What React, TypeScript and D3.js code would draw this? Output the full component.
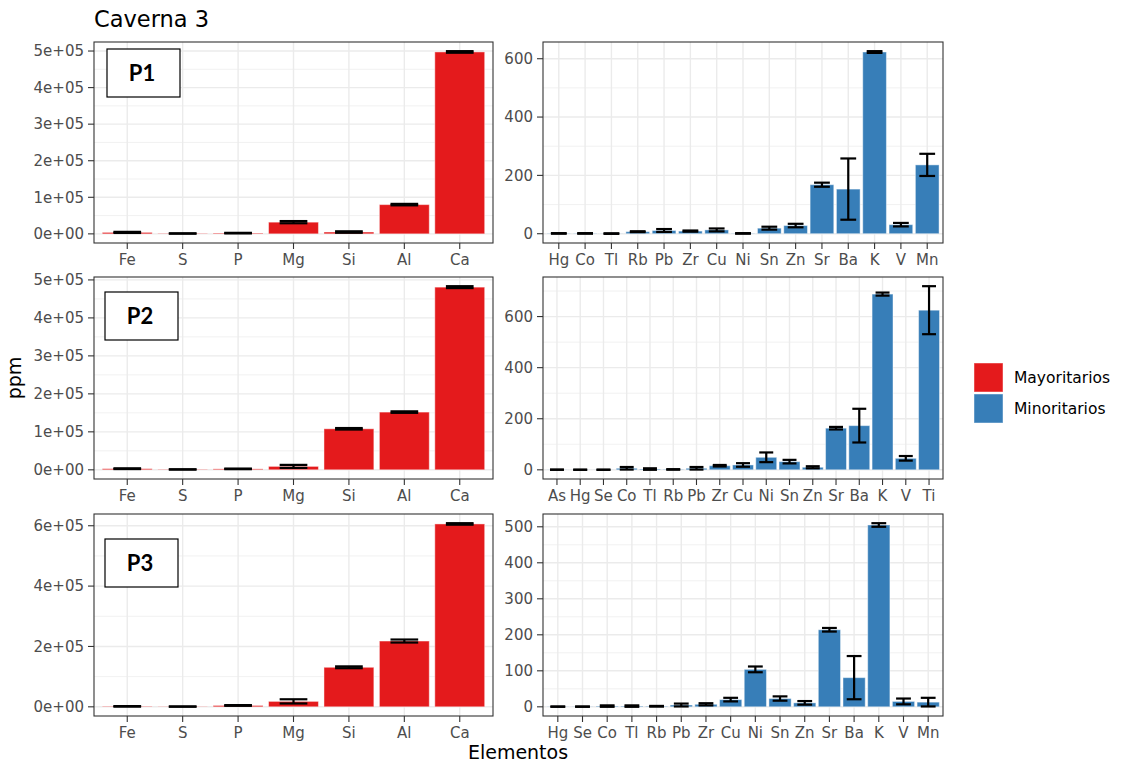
import React from "react";
import * as d3 from "d3";

// ---- Data -------------------------------------------------------------
const majorCats = ["Fe", "S", "P", "Mg", "Si", "Al", "Ca"];

const p1MajorMean = [4000, 1000, 2000, 32000, 5000, 80000, 497500];
const p1MajorSd = [1500, 500, 800, 3000, 2000, 2000, 2200];
const p2MajorMean = [3000, 1000, 2500, 9000, 108000, 152000, 481000];
const p2MajorSd = [1000, 400, 800, 4000, 2000, 2000, 2500];
const p3MajorMean = [1500, 800, 4500, 18000, 131000, 218000, 606000];
const p3MajorSd = [800, 500, 1200, 7000, 3000, 5000, 2500];

const p1MinorCats = ["Hg", "Co", "Tl", "Rb", "Pb", "Zr", "Cu", "Ni", "Sn", "Zn", "Sr", "Ba", "K", "V", "Mn"];
const p1MinorMean = [1, 1, 0.5, 7, 11, 9, 13, 1, 19, 28, 168, 153, 623, 31, 236];
const p1MinorSd = [1, 1, 1, 1.5, 5, 2, 5, 1, 5, 6, 7, 105, 3, 6, 38];

const p2MinorCats = ["As", "Hg", "Se", "Co", "Tl", "Rb", "Pb", "Zr", "Cu", "Ni", "Sn", "Zn", "Sr", "Ba", "K", "V", "Ti"];
const p2MinorMean = [0.5, 0.3, 0.3, 6, 3, 1.5, 6, 16, 19, 49, 32, 10, 163, 173, 688, 45, 625];
const p2MinorSd = [0.5, 0.3, 0.3, 5, 3, 1, 5, 3, 7, 19, 7, 4, 5, 66, 6, 9, 94];

const p3MinorCats = ["Hg", "Se", "Co", "Tl", "Rb", "Pb", "Zr", "Cu", "Ni", "Sn", "Zn", "Sr", "Ba", "K", "V", "Mn"];
const p3MinorMean = [0.5, 0.5, 2, 2, 1.5, 5, 7, 20, 104, 23, 11, 214, 81, 505, 15, 13];
const p3MinorSd = [0.5, 0.5, 2, 2, 1, 4, 3, 5, 8, 6, 5, 5, 60, 5, 8, 12];

const majorTicksA = [0, 100000, 200000, 300000, 400000, 500000];
const majorTicksB = [0, 200000, 400000, 600000];
const minorTicksA = [0, 200, 400, 600];
const minorTicksB = [0, 100, 200, 300, 400, 500];

const plotTitle = "Caverna 3";
const xTitle = "Elementos";
const yTitle = "ppm";
const groupNames = ["Mayoritarios", "Minoritarios"];
const groupColors = ["#E41A1C", "#377EB8"];
const rowLabels = ["P1", "P2", "P3"];

// ---- Helpers ----------------------------------------------------------
const FONT = "DejaVu Sans, sans-serif";
const TICK_COLOR = "#4D4D4D";
const LINE_COLOR = "#333333";
const GRID = "#EBEBEB";
const TICK_SIZE = 15;

// R-style scientific notation: 5e+05, 0e+00
function sci(v: number): string {
  if (v === 0) return "0e+00";
  const e = Math.floor(Math.log10(Math.abs(v)));
  const m = Math.round(v / Math.pow(10, e));
  const sign = e < 0 ? "-" : "+";
  return `${m}e${sign}${String(Math.abs(e)).padStart(2, "0")}`;
}
const plain = (v: number) => String(v);

type PanelProps = {
  cats: string[];
  mean: number[];
  sd: number[];
  ticks: number[];
  fmt: (v: number) => string;
  color: string;
  x0: number;
  x1: number;
  y0: number;
  y1: number;
  capFrac: number;
};

function Panel({ cats, mean, sd, ticks, fmt, color, x0, x1, y0, y1, capFrac }: PanelProps) {
  const hi = d3.max(mean.map((m, i) => m + sd[i])) as number;
  const lo = Math.min(0, d3.min(mean.map((m, i) => m - sd[i])) as number);
  const pad = (hi - lo) * 0.05;
  const y = d3.scaleLinear().domain([lo - pad, hi + pad]).range([y1, y0]);
  const x = d3.scaleBand<string>().domain(cats).range([x0, x1]).paddingInner(0.1).paddingOuter(0.15);
  const step = x.step();
  const bw = x.bandwidth();
  const [dLo, dHi] = y.domain();
  const tstep = ticks[1] - ticks[0];
  const minor: number[] = [];
  for (let t = ticks[0] - tstep / 2; t <= ticks[ticks.length - 1] + tstep; t += tstep) {
    if (t >= dLo && t <= dHi) minor.push(t);
  }
  const capW = step * capFrac;
  return (
    <g>
      <rect x={x0} y={y0} width={x1 - x0} height={y1 - y0} fill="#FFFFFF" />
      {minor.map((t, i) => (
        <line key={"mn" + i} x1={x0} x2={x1} y1={y(t)} y2={y(t)} stroke={GRID} strokeWidth={0.7} />
      ))}
      {ticks.map((t, i) => (
        <line key={"mj" + i} x1={x0} x2={x1} y1={y(t)} y2={y(t)} stroke={GRID} strokeWidth={1.4} />
      ))}
      {cats.map((c) => {
        const cx = (x(c) as number) + bw / 2;
        return <line key={"vg" + c} x1={cx} x2={cx} y1={y0} y2={y1} stroke={GRID} strokeWidth={1.4} />;
      })}
      {cats.map((c, i) => {
        const top = y(Math.max(mean[i], 0));
        return (
          <rect
            key={"b" + c}
            x={x(c) as number}
            y={Math.min(top, y(0))}
            width={bw}
            height={Math.abs(y(0) - top)}
            fill={color}
            stroke="rgba(255,255,255,0.45)"
            strokeWidth={1}
          />
        );
      })}
      {cats.map((c, i) => {
        const cx = (x(c) as number) + bw / 2;
        const ya = y(mean[i] + sd[i]);
        const yb = y(mean[i] - sd[i]);
        return (
          <g key={"e" + c} stroke="#000" strokeWidth={2.2} fill="none">
            <line x1={cx} x2={cx} y1={ya} y2={yb} />
            <line x1={cx - capW / 2} x2={cx + capW / 2} y1={ya} y2={ya} />
            <line x1={cx - capW / 2} x2={cx + capW / 2} y1={yb} y2={yb} />
          </g>
        );
      })}
      <rect x={x0} y={y0} width={x1 - x0} height={y1 - y0} fill="none" stroke={LINE_COLOR} strokeWidth={1.1} />
      {ticks.map((t, i) => (
        <g key={"yt" + i}>
          <line x1={x0 - 6} x2={x0} y1={y(t)} y2={y(t)} stroke={LINE_COLOR} strokeWidth={1.1} />
          <text x={x0 - 10} y={y(t)} dy="0.35em" textAnchor="end" fontFamily={FONT} fontSize={TICK_SIZE} fill={TICK_COLOR}>
            {fmt(t)}
          </text>
        </g>
      ))}
      {cats.map((c) => {
        const cx = (x(c) as number) + bw / 2;
        return (
          <g key={"xt" + c}>
            <line x1={cx} x2={cx} y1={y1} y2={y1 + 6} stroke={LINE_COLOR} strokeWidth={1.1} />
            <text x={cx} y={y1 + 21.5} textAnchor="middle" fontFamily={FONT} fontSize={TICK_SIZE} fill={TICK_COLOR}>
              {c}
            </text>
          </g>
        );
      })}
    </g>
  );
}

function Tag({ x, y, label }: { x: number; y: number; label: string }) {
  return (
    <g>
      <rect x={x} y={y} width={73} height={48} fill="#FFFFFF" stroke="#000" strokeWidth={1.2} />
      <text x={x + 35} y={y + 24} dy="0.36em" textAnchor="middle" fontFamily="Lato, Open Sans, sans-serif" fontWeight={700} fontSize={22} fill="#000">
        {label}
      </text>
    </g>
  );
}

export default function App() {
  const W = 1121;
  const H = 762;
  const L = [94, 493];
  const R = [543, 943];
  const rows = [
    [42, 243],
    [277, 479],
    [514, 716],
  ];
  const majors = [
    { mean: p1MajorMean, sd: p1MajorSd, ticks: majorTicksA },
    { mean: p2MajorMean, sd: p2MajorSd, ticks: majorTicksA },
    { mean: p3MajorMean, sd: p3MajorSd, ticks: majorTicksB },
  ];
  const minors = [
    { cats: p1MinorCats, mean: p1MinorMean, sd: p1MinorSd, ticks: minorTicksA },
    { cats: p2MinorCats, mean: p2MinorMean, sd: p2MinorSd, ticks: minorTicksA },
    { cats: p3MinorCats, mean: p3MinorMean, sd: p3MinorSd, ticks: minorTicksB },
  ];
  const tagY = [49, 292, 539];
  return (
    <div style={{ position: "fixed", left: 0, top: 0 }}>
      <svg width={W} height={H} viewBox={`0 0 ${W} ${H}`} style={{ display: "block", background: "#FFFFFF" }}>
        <rect x={0} y={0} width={W} height={H} fill="#FFFFFF" />
        <text x={94} y={27} fontFamily={FONT} fontSize={22.5} fill="#000">
          {plotTitle}
        </text>
        {rows.map((r, i) => (
          <g key={"row" + i}>
            <Panel
              cats={majorCats}
              mean={majors[i].mean}
              sd={majors[i].sd}
              ticks={majors[i].ticks}
              fmt={sci}
              color={groupColors[0]}
              x0={L[0]}
              x1={L[1]}
              y0={r[0]}
              y1={r[1]}
              capFrac={0.5}
            />
            <Panel
              cats={minors[i].cats}
              mean={minors[i].mean}
              sd={minors[i].sd}
              ticks={minors[i].ticks}
              fmt={plain}
              color={groupColors[1]}
              x0={R[0]}
              x1={R[1]}
              y0={r[0]}
              y1={r[1]}
              capFrac={0.6}
            />
            <Tag x={i === 0 ? 107 : 105} y={tagY[i]} label={rowLabels[i]} />
          </g>
        ))}
        <text x={518} y={759} textAnchor="middle" fontFamily={FONT} fontSize={19} fill="#000">
          {xTitle}
        </text>
        <text transform="translate(21,378) rotate(-90)" textAnchor="middle" fontFamily={FONT} fontSize={19} fill="#000">
          {yTitle}
        </text>
        {groupNames.map((g, i) => (
          <g key={"lg" + i}>
            <rect x={974} y={363 + i * 31} width={29} height={29} fill={groupColors[i]} stroke="rgba(255,255,255,0.45)" strokeWidth={1} />
            <text x={1014} y={377.5 + i * 31} dy="0.35em" fontFamily={FONT} fontSize={15.5} fill="#000">
              {g}
            </text>
          </g>
        ))}
      </svg>
    </div>
  );
}
